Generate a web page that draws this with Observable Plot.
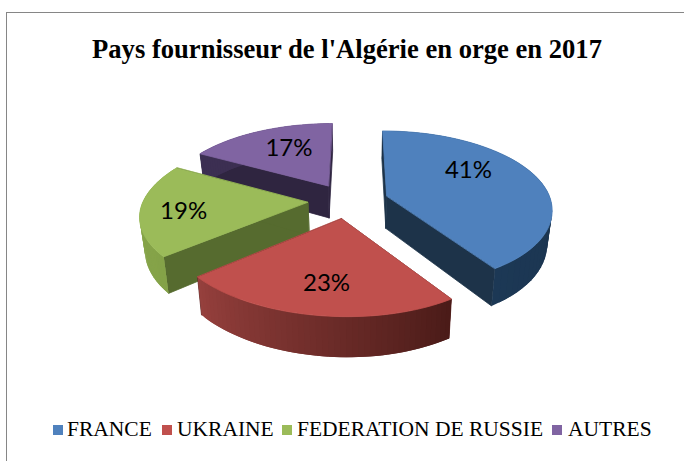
<!DOCTYPE html>
<html lang="fr">
<head>
<meta charset="utf-8">
<script src="https://cdn.jsdelivr.net/npm/d3@7"></script>
<script src="https://cdn.jsdelivr.net/npm/@observablehq/plot@0.6"></script>
<style>
html,body{margin:0;padding:0;background:#fff}
#page{position:relative;width:684px;height:461px;overflow:hidden}
#frame{position:absolute;left:6px;top:12px;width:684px;height:470px;border:1.5px solid #868686;box-sizing:border-box}
#title{position:relative;height:80px;box-sizing:border-box;padding-top:31px;text-align:center;font:bold 26.6px/36px "Liberation Serif",serif;color:#000;left:5px;white-space:nowrap}
#chart{position:relative;height:320px}
#chart svg{display:block}
#legend{position:relative;height:61px;font:21.5px/24px "Liberation Serif",serif;color:#000;white-space:nowrap}
#legend span{position:absolute;top:17px}
#legend i{position:absolute;top:24.5px;width:10px;height:10px}
</style>
</head>
<body>
<div id="page">
<div id="frame"></div>
<div id="title">Pays fournisseur de l'Algérie en orge en 2017</div>
<div id="chart"></div>
<div id="legend"></div>
</div>
<script>
const categories = ["FRANCE", "UKRAINE", "FEDERATION DE RUSSIE", "AUTRES"];
const shares = [41, 23, 19, 17];
const topColors = ["#4f81bd", "#c0504d", "#9bbb59", "#8064a2"];
const cutColors = ["#1d3349", "#5a2523", "#566b2f", "#2f2540"];
const sideFrom = ["#1c3855", "#96403d", "#8aa84c", "#3c2f52"];
const sideTo = ["#1c3148", "#4a1b18", "#84a248", "#3c2f52"];

// Projection of the exploded, tilted pie (perspective camera)
const vx = 356, vy = -290, a = 0.3586, c = 0.00204, q = 0.000318;
const radX = 0.935, explode = 0.23, x0 = -0.048, thick = 0.067, pinch = 0.975, lean = 6;
function project(X, Y, bottom) {
  const w = 1 / (c - q * Y);
  const sx = a * X * w + lean * Math.max(Y, 0) ** 2, sy = w;
  return bottom ? [vx + sx * pinch, vy + sy * (1 + thick)] : [vx + sx, vy + sy];
}
const pie = d3.pie().sort(null).value(d => d)(shares);
const slices = pie.map((p, i) => {
  const mid = (p.startAngle + p.endAngle) / 2;
  return {i, start: p.startAngle, end: p.endAngle, cx: x0 + explode * Math.sin(mid), cy: -explode * Math.cos(mid)};
});
const at = (s, t, r) => [s.cx + radX * r * Math.sin(t), s.cy - r * Math.cos(t)];

const polys = [];
let pid = 0;
function poly(points, fill, stroke) {
  const id = pid++;
  for (const [x, y] of points) polys.push({id, x, y, fill, stroke});
}
for (const k of [3, 0, 2, 1]) {
  const s = slices[k];
  const n = 48;
  const angle = j => s.start + (s.end - s.start) * Math.max(j, 0) / n;
  const centre = [s.cx, s.cy];
  for (const t of [s.start, s.end]) {
    const e = at(s, t, 1);
    poly([project(...centre), project(...e), project(...e, true), project(...centre, true)], cutColors[k], cutColors[k]);
  }
  const shade = d3.interpolateRgb(sideFrom[k], sideTo[k]);
  // curved wall: each band overlaps the next so no seams show
  for (let j = n; j > 0; j--) {
    const p1 = at(s, angle(j), 1), p2 = at(s, angle(j - 2), 1);
    poly([project(...p1), project(...p2), project(...p2, true), project(...p1, true)], shade(1 - (j - 0.5) / n), "none");
  }
  const rim = d3.range(n + 1).map(j => project(...at(s, angle(j), 1)));
  poly([project(...centre), ...rim], topColors[k], topColors[k]);
}

// label anchor on each top face
const labelNudge = [[6, -15], [-2, 21], [-41, 5], [-3, -9]];
const labels = slices.map(s => {
  const mid = (s.start + s.end) / 2;
  const [x, y] = project(...at(s, mid, 0.5));
  return {x, y, text: shares[s.i] + "%", i: s.i};
});

const chart = Plot.plot({
  width: 684, height: 320, margin: 0,
  x: {domain: [0, 684], range: [0, 684], axis: null},
  y: {domain: [80, 400], range: [0, 320], axis: null},
  color: {type: "identity"},
  style: {background: "transparent"},
  marks: [
    Plot.line(polys, {x: "x", y: "y", z: "id", fill: "fill", stroke: "stroke", strokeWidth: 0.8, curve: "linear-closed"}),
    ...labels.map(l => Plot.text([l], {
      x: "x", y: "y", text: "text", dx: labelNudge[l.i][0], dy: labelNudge[l.i][1],
      fontSize: 24, fontFamily: "Lato, sans-serif", fill: "#000"
    }))
  ]
});
document.getElementById("chart").append(chart);

const legend = document.getElementById("legend");
const swatchX = [53, 162, 282, 552], textX = [67, 177, 297, 568];
categories.forEach((name, i) => {
  const sw = document.createElement("i");
  sw.style.left = swatchX[i] + "px";
  sw.style.background = topColors[i];
  const t = document.createElement("span");
  t.style.left = textX[i] + "px";
  t.textContent = name;
  legend.append(sw, t);
});
</script>
</body>
</html>
